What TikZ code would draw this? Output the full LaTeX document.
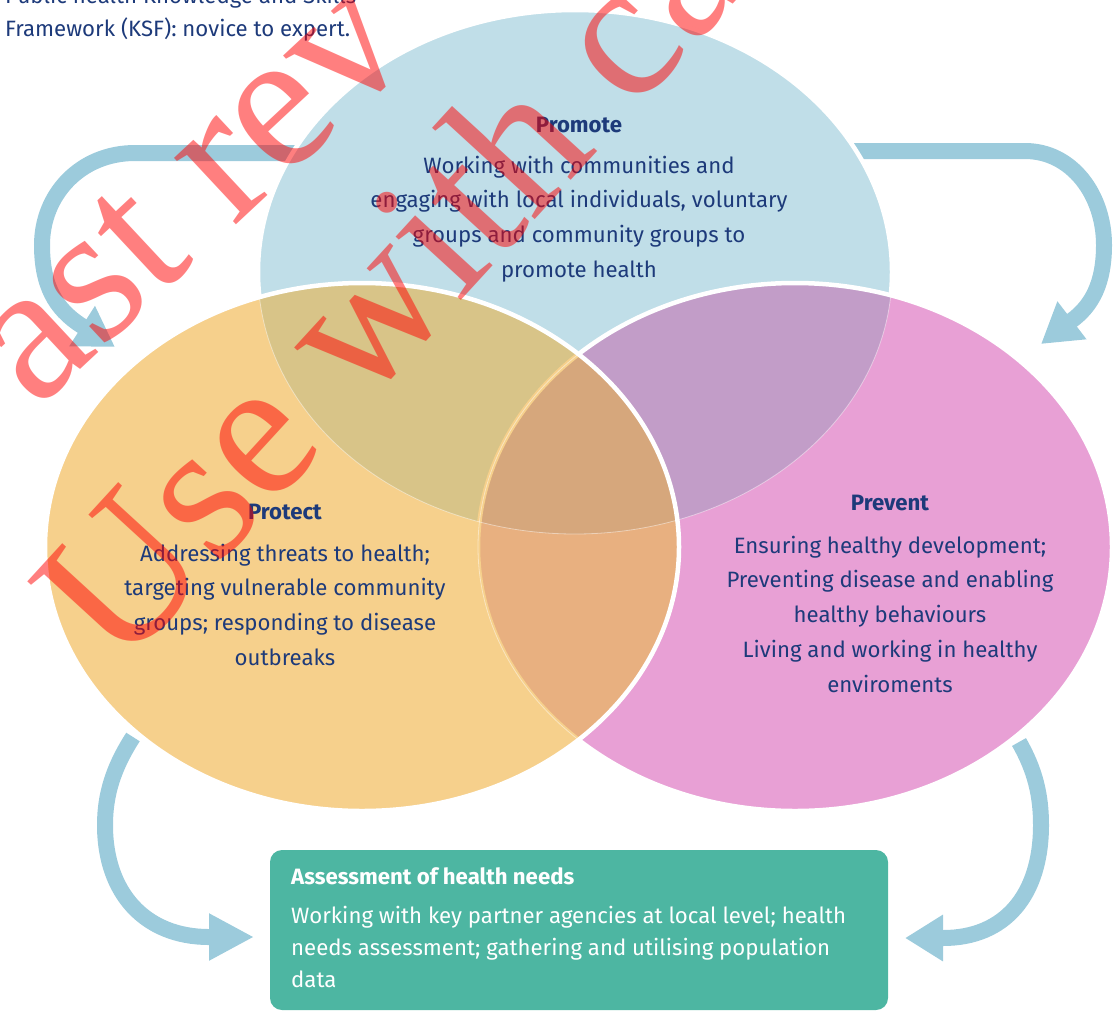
\documentclass[tikz,border=0pt]{standalone}
\usepackage{fontspec}
\setmainfont{Fira Sans}
\newfontfamily\markfont{Liberation Serif}
\usetikzlibrary{arrows.meta}

\definecolor{promoteblue}{HTML}{C0DEE8}
\definecolor{protectyellow}{HTML}{F6D08C}
\definecolor{preventpink}{HTML}{E8A0D5}
\definecolor{olivemix}{HTML}{D8C488}
\definecolor{purplemix}{HTML}{C29DC8}
\definecolor{peachmix}{HTML}{E8B080}
\definecolor{centremix}{HTML}{D6A77C}
\definecolor{arrowblue}{HTML}{9CCBDC}
\definecolor{assessgreen}{HTML}{4DB6A2}
\definecolor{navy}{HTML}{1D3A7A}

\begin{document}
\begin{tikzpicture}[x=1pt,y=-1pt,
  promote area/.style={insert path={(575,272) ellipse [x radius=317pt, y radius=262pt]}},
  protect area/.style={insert path={(362,547) ellipse [x radius=317pt, y radius=264pt]}},
  prevent area/.style={insert path={(795,547) ellipse [x radius=317pt, y radius=264pt]}},
  rim/.style={draw=white, line width=4.5pt},
  seam/.style={draw=white, draw opacity=0.45, line width=0.8pt},
  cyclearrow/.style={draw=arrowblue, line width=16pt, line cap=butt,
    -{Triangle[length=39pt, width=45pt]}},
  areatext/.style={align=center, text=navy, inner sep=0pt,
    font=\fontsize{22.2pt}{34.7pt}\selectfont},
  boxtext/.style={align=left, text=white, inner sep=0pt,
    font=\fontsize{22.2pt}{32pt}\selectfont},
  watermark/.style={text=red, text opacity=0.5, inner sep=0pt,
    anchor=base west, font=\markfont\fontsize{198pt}{198pt}\selectfont}
]
\useasboundingbox (0,0) rectangle (1113,1010);
\clip (0,0) rectangle (1113,1010);

% cycle arrows (lying under the ellipses)
\coordinate (a1s) at (300,153);
\coordinate (a1e) at (115,347);
\coordinate (a2s) at (850,151);
\coordinate (a2e) at (1041,344);
\coordinate (a3s) at (133,737);
\coordinate (a3e) at (254,937);
\coordinate (a4s) at (1019,742);
\coordinate (a4e) at (905,938);
\draw[cyclearrow] (a1s) -- (135,153) .. controls (80,153) and (42,195) .. (42,245)
  .. controls (42,285) and (55,309) .. (82,326) -- (a1e);
\draw[cyclearrow] (a2s) -- (1025,151) .. controls (1072,151) and (1104,195) .. (1104,245)
  .. controls (1104,283) and (1092,306) .. (1071,321) -- (a2e);
\draw[cyclearrow, -{Triangle[length=45pt, width=44pt]}] (a3s)
  .. controls (113,768) and (105,795) .. (105,825)
  .. controls (105,893) and (145,937) .. (209,937) -- (a3e);
\draw[cyclearrow, -{Triangle[length=38pt, width=44pt]}] (a4s)
  .. controls (1035,770) and (1041,795) .. (1041,825)
  .. controls (1041,895) and (1005,938) .. (943,938) -- (a4e);

% Promote
\fill[promote area, fill=promoteblue];
\path[promote area, rim];

% Prevent
\fill[prevent area, fill=preventpink];
\begin{scope}
  \clip[promote area];
  \fill[prevent area, fill=purplemix];
\end{scope}
\begin{scope}
  \clip[prevent area];
  \path[promote area, seam];
\end{scope}
\path[prevent area, rim];

% Protect
\fill[protect area, fill=protectyellow];
\begin{scope}
  \clip[protect area];
  \begin{scope}
    \clip[promote area];
    \fill[protect area, fill=olivemix];
  \end{scope}
  \begin{scope}
    \clip[prevent area];
    \fill[protect area, fill=peachmix];
    \clip[promote area];
    \fill[protect area, fill=centremix];
  \end{scope}
  \path[prevent area, draw=protectyellow, line width=4.5pt];
  \path[prevent area, seam];
  \path[promote area, seam];
\end{scope}
\path[protect area, rim];

% texts of the three areas
\node[areatext, anchor=north] (promote) at (579,117)
  {\textbf{Promote}\\[6pt]Working with communities and\\engaging with local individuals, voluntary\\groups and community groups to\\promote health};
\node[areatext, anchor=north] (protect) at (285,504)
  {\textbf{Protect}\\[7pt]Addressing threats to health;\\targeting vulnerable community\\groups; responding to disease\\outbreaks};
\node[areatext, anchor=north] (prevent) at (890,495)
  {\textbf{Prevent}\\[8pt]Ensuring healthy development;\\Preventing disease and enabling\\healthy behaviours\\Living and working in healthy\\enviroments};

% assessment box
\node[fill=assessgreen, rounded corners=12pt, minimum width=618pt, minimum height=160pt,
  inner sep=0pt] (assess) at (579,930) {};
\node[boxtext, anchor=north west] (assesstext) at (291,867)
  {\textbf{Assessment of health needs}\\[7pt]Working with key partner agencies at local level; health\\needs assessment; gathering and utilising population\\data};

% heading text at the top left
\node[areatext, align=left, anchor=north west, font=\fontsize{22.2pt}{33pt}\selectfont]
  (ksf) at (5,-14) {Public health Knowledge and Skills\\Framework (KSF): novice to expert.};

% watermark
\node[watermark, rotate=43] (wm1) at (36,411) {ast rev};
\node[watermark, rotate=47.5] (wm2) at (120,673) {Use with ca};
\end{tikzpicture}
\end{document}
